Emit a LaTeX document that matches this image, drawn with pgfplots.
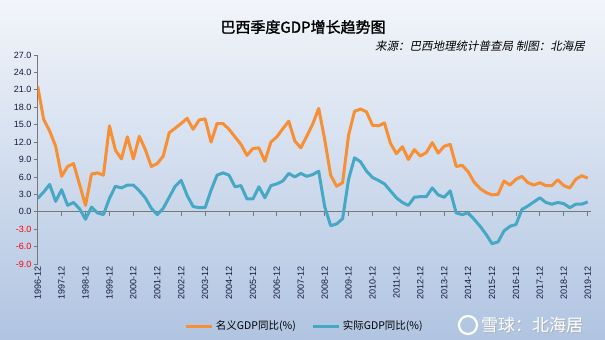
\documentclass[border=0pt]{standalone}
\usepackage{pgfplots}
\pgfplotsset{compat=1.18}
\usepackage{fontspec}
\setmainfont{Liberation Sans}
\newfontfamily\cjk{Noto Sans CJK SC}
\newfontfamily\cjkit[FakeSlant=0.2]{Noto Sans CJK SC}
\newfontfamily\cjkb[FakeBold=1.6]{Noto Sans CJK SC}
\definecolor{orng}{RGB}{247,143,52}
\definecolor{tealb}{RGB}{70,168,196}
\definecolor{bgtop}{RGB}{242,245,250}
\definecolor{bgbot}{RGB}{176,196,225}
\definecolor{tickc}{RGB}{20,25,60}
\definecolor{axc}{RGB}{120,120,120}
\pgfplotstableread{
i nom real
0 21.6 2.3
1 15.9 3.4
2 13.9 4.7
3 11.3 1.8
4 6.1 3.8
5 7.8 1.1
6 8.3 1.6
7 4.7 0.5
8 1.1 -1.3
9 6.5 0.8
10 6.7 -0.2
11 6.3 -0.5
12 14.8 2.3
13 10.6 4.4
14 9.1 4.1
15 12.9 4.6
16 9.1 4.6
17 13.0 3.6
18 10.7 2.4
19 7.8 0.6
20 8.3 -0.5
21 9.6 0.6
22 13.6 2.5
23 14.4 4.4
24 15.2 5.4
25 16.1 2.8
26 14.2 0.9
27 15.8 0.7
28 16.0 0.7
29 12.0 3.7
30 15.2 6.3
31 15.2 6.7
32 14.2 6.3
33 12.9 4.3
34 11.6 4.5
35 9.7 2.2
36 10.9 2.2
37 11.0 4.3
38 8.7 2.4
39 12.0 4.5
40 12.9 4.8
41 14.3 5.3
42 15.6 6.6
43 12.2 6.0
44 11.0 6.6
45 13.0 6.1
46 15.1 6.4
47 17.8 7.0
48 12.5 0.9
49 6.3 -2.4
50 4.4 -2.1
51 5.0 -1.2
52 13.2 5.6
53 17.3 9.3
54 17.7 8.6
55 17.2 7.0
56 14.9 5.9
57 14.8 5.4
58 15.3 4.8
59 11.8 3.6
60 10.0 2.4
61 11.2 1.6
62 9.0 1.1
63 10.7 2.5
64 9.6 2.6
65 10.2 2.6
66 11.9 4.1
67 10.1 2.9
68 11.3 2.5
69 11.6 3.6
70 7.8 -0.2
71 8.0 -0.5
72 6.9 -0.2
73 5.1 -1.3
74 4.0 -2.5
75 3.3 -3.9
76 2.9 -5.5
77 3.0 -5.2
78 5.3 -3.3
79 4.6 -2.5
80 5.6 -2.2
81 6.1 0.4
82 5.0 1.0
83 4.6 1.7
84 5.0 2.4
85 4.5 1.6
86 4.5 1.3
87 5.5 1.6
88 4.5 1.4
89 4.1 0.7
90 5.6 1.3
91 6.2 1.3
92 5.8 1.7
}\gdpdata
\begin{document}
\begin{tikzpicture}
\path[use as bounding box] (0,0) rectangle (605bp,340bp);
\shade[top color=bgtop, bottom color=bgbot] (0,0) rectangle (605bp,340bp);
% zero line with ticks
\begin{axis}[
  at={(37.7bp,76bp)}, anchor=south west, scale only axis,
  width=553bp, height=209bp,
  xmin=0, xmax=92.5, ymin=-9, ymax=27,
  axis x line=middle, axis y line=none,
  axis line style={-, draw=axc, line width=0.9bp},
  xtick={0,4,...,92}, xticklabels={},
  xtick align=outside, major tick length=4bp,
  xtick style={draw=axc, line width=0.8bp},
]
\addplot[draw=none] coordinates {(0,0)};
\end{axis}
\begin{axis}[
  at={(37.7bp,76bp)}, anchor=south west, scale only axis,
  width=553bp, height=209bp,
  xmin=0, xmax=92.5, ymin=-9, ymax=27,
  axis y line*=left, axis x line*=bottom,
  axis line style={-},
  x axis line style={draw=none},
  y axis line style={draw=axc, line width=0.9bp},
  ytick={-9,-6,...,27},
  yticklabels={\textcolor{red}{-9.0},\textcolor{red}{-6.0},\textcolor{red}{-3.0},0.0,3.0,6.0,9.0,12.0,15.0,18.0,21.0,24.0,27.0},
  ytick align=outside, major tick length=4bp,
  ytick style={draw=axc, line width=0.8bp},
  yticklabel style={font=\fontsize{9bp}{10bp}\selectfont, text=tickc, inner sep=2bp},
  xtick={0,4,...,92},
  xticklabels={1996-12,1997-12,1998-12,1999-12,2000-12,2001-12,2002-12,2003-12,2004-12,2005-12,2006-12,2007-12,2008-12,2009-12,2010-12,2011-12,2012-12,2013-12,2014-12,2015-12,2016-12,2017-12,2018-12,2019-12},
  xtick style={draw=none},
  xticklabel style={rotate=90, anchor=east, font=\fontsize{9bp}{10bp}\selectfont, text=tickc, inner sep=2bp},
  /pgf/number format/assume math mode=true,
  legend style={at={(rel axis cs:0.483,-0.297)}, anchor=center, draw=none, fill=none,
    legend columns=2, font=\cjk\fontsize{10.5bp}{12bp}\selectfont,
    /tikz/every even column/.append style={column sep=14bp}},
  legend image code/.code={\draw[#1] (0bp,0bp) -- (26bp,0bp);},
]
\addplot[orng, line width=3bp, line join=round] table[x=i, y=nom] {\gdpdata};
\addlegendentry{名义GDP同比(\%)}
\addplot[tealb, line width=3bp, line join=round] table[x=i, y=real] {\gdpdata};
\addlegendentry{实际GDP同比(\%)}
\end{axis}
\node[font=\cjkb\fontsize{15bp}{18bp}\selectfont] at (303bp,313bp) {巴西季度GDP增长趋势图};
\node[anchor=east, font=\cjkit\fontsize{11.5bp}{13bp}\selectfont, inner sep=0pt] at (585bp,294bp) {来源：巴西地理统计普查局 制图：北海居};
\draw[white, line width=2.2bp] (468bp,15bp) circle (9bp);
\node[anchor=west, font=\cjk\fontsize{17bp}{20bp}\selectfont, text=black!35, opacity=0.6, inner sep=0pt] at (482bp,14bp) {雪球：北海居};
\node[anchor=west, font=\cjk\fontsize{17bp}{20bp}\selectfont, text=white, inner sep=0pt] at (481bp,15bp) {雪球：北海居};
\end{tikzpicture}
\end{document}
